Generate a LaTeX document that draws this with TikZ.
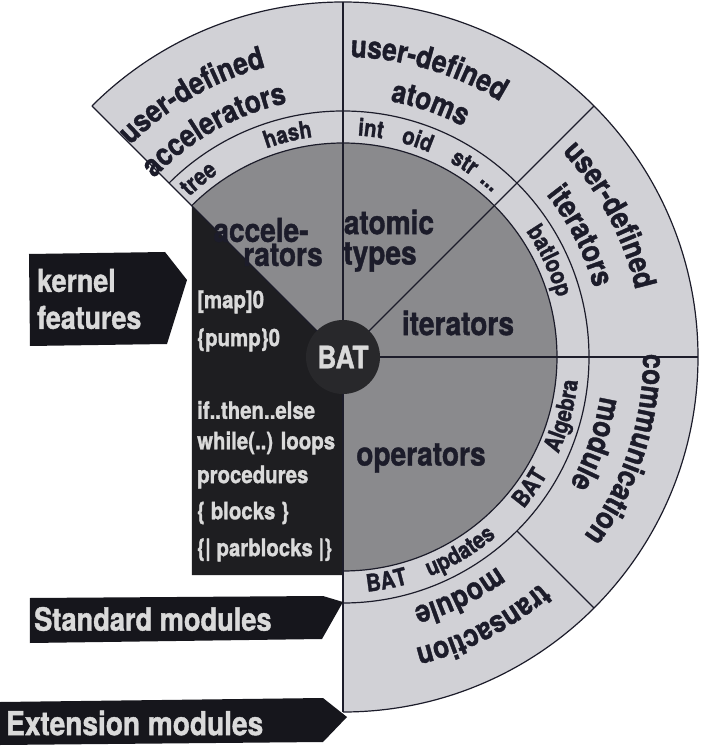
\documentclass[tikz,border=0pt]{standalone}
\usepackage{fontspec}
\setmainfont{TeX Gyre Heros}[FakeStretch=0.85,FakeBold=1.2]
\usepackage{tikz}
\usetikzlibrary{decorations.text}
\definecolor{ringgray}{RGB}{209,209,214}
\definecolor{coregray}{RGB}{138,138,141}
\definecolor{paneldark}{RGB}{30,30,33}
\definecolor{batdark}{RGB}{40,40,43}
\definecolor{boxblack}{RGB}{22,22,28}
\definecolor{inkdark}{RGB}{28,28,42}
\definecolor{paletext}{RGB}{218,218,218}
\newcommand{\bsz}[1]{\fontsize{#1}{#1}\selectfont\bfseries}
% text on an arc, clockwise (tops outward) / counter-clockwise (tops inward)
\newcommand{\cwtext}[4]{%
  \path[decorate,decoration={text along path,text align=center,
    text={|\color{inkdark}\bsz{#3}|#4}}]
    (#1+45:#2) arc[start angle=#1+45,end angle=#1-45,radius=#2];}
\newcommand{\ccwtext}[4]{%
  \path[decorate,decoration={text along path,text align=center,
    text={|\color{inkdark}\bsz{#3}|#4}}]
    (#1-45:#2) arc[start angle=#1-45,end angle=#1+45,radius=#2];}

\begin{document}
\begin{tikzpicture}[x=1pt,y=1pt,
    rim/.style={draw=inkdark,line width=1.2pt},
    coretext/.style={text=inkdark,font=\bsz{33},inner sep=0pt},
    listtext/.style={text=paletext,font=\bsz{24},anchor=west,inner sep=0pt},
    boxtext/.style={text=paletext,font=\bsz{32},anchor=west,inner sep=0pt}]
    \useasboundingbox[fill=white] (-343,-397) rectangle (368,357);

    % Rings and core
    \fill[ringgray] (-90:355) arc[start angle=-90,end angle=135,radius=355]
        -- (135:214) arc[start angle=135,end angle=-90,radius=214] -- cycle;
    \fill[coregray] (0,0) -- (-90:214) arc[start angle=-90,end angle=135,radius=214] -- cycle;
    \fill[paneldark] (-151,151) -- (0,0) -- (0,-218) -- (-151,-218) -- cycle;

    % Borders
    \foreach \r in {214,246,355} {
        \draw[rim] (-90:\r) arc[start angle=-90,end angle=135,radius=\r];
    }
    \foreach \a in {135,90,45,0} {
        \draw[rim] (0,0) -- (\a:355);
    }
    \draw[rim] (0,0) -- (-90:355);
    \draw[rim] (-45:246) -- (-45:355);

    % BAT
    \node[circle,fill=batdark,minimum size=74pt,text=paletext,font=\bsz{31}] (bat) at (0,0) {BAT};

    % Core sectors
    \node[coretext] (accele) at (-82,127) {accele-};
    \node[coretext] (rators) at (-60,102) {rators};
    \node[coretext] (atomic) at (46,135) {atomic};
    \node[coretext] (types) at (37,100) {types};
    \node[coretext] (iter) at (115,34) {iterators};
    \node[coretext] (oper) at (78,-101) {operators};

    % Kernel features list
    \node[listtext] (map) at (-146,55) {[map]0};
    \node[listtext] (pump) at (-146,17) {\{pump\}0};
    \node[listtext] (ite) at (-146,-53) {if..then..else};
    \node[listtext] (loops) at (-146,-86) {while(..) loops};
    \node[listtext] (procs) at (-146,-120) {procedures};
    \node[listtext] (blocks) at (-146,-156) {\{ blocks \}};
    \node[listtext] (parblocks) at (-146,-193) {\{| parblocks |\}};

    % Middle ring
    \cwtext{129}{222}{24}{tree}
    \cwtext{104}{222}{24}{hash}
    \cwtext{83}{222}{24}{int}
    \cwtext{71}{222}{24}{oid}
    \cwtext{58}{222}{24}{str}
    \cwtext{50}{222}{24}{...}
    \cwtext{25}{222}{24}{batloop}
    \ccwtext{-35}{236}{24}{BAT}
    \ccwtext{-15}{236}{24}{Algebra}
    \ccwtext{-79}{236}{24}{BAT}
    \ccwtext{-59}{236}{24}{updates}

    % Outer ring
    \cwtext{120}{300}{31}{user-defined}
    \cwtext{119.5}{260}{31}{accelerators}
    \cwtext{73.5}{300}{31}{user-defined}
    \cwtext{71}{260}{31}{atoms}
    \cwtext{28}{300}{31}{user-defined}
    \cwtext{27}{260}{31}{iterators}
    \cwtext{-18}{300}{31}{communication}
    \cwtext{-19}{260}{31}{module}
    \cwtext{-62.5}{300}{31}{transaction}
    \cwtext{-64}{260}{31}{module}

    % Label arrows
    \fill[boxblack] (-314,103) -- (-178,105) -- (-156,77) -- (-176,13) -- (-313,11) -- cycle;
    \node[boxtext,align=left,font=\fontsize{31.5}{37}\selectfont\bfseries] (kernel) at (-306,58) {kernel\\features};
    \fill[boxblack] (-313,-241) -- (-20,-239) -- (0,-245) -- (-21,-282) -- (-313,-286) -- cycle;
    \node[boxtext] (stdmod) at (-309,-262) {Standard modules};
    \fill[boxblack] (-343,-345) -- (-20,-341) -- (4,-360) -- (-20,-385) -- (-343,-388) -- cycle;
    \node[boxtext,font=\bsz{33}] (extmod) at (-337,-366) {Extension modules};
\end{tikzpicture}
\end{document}
